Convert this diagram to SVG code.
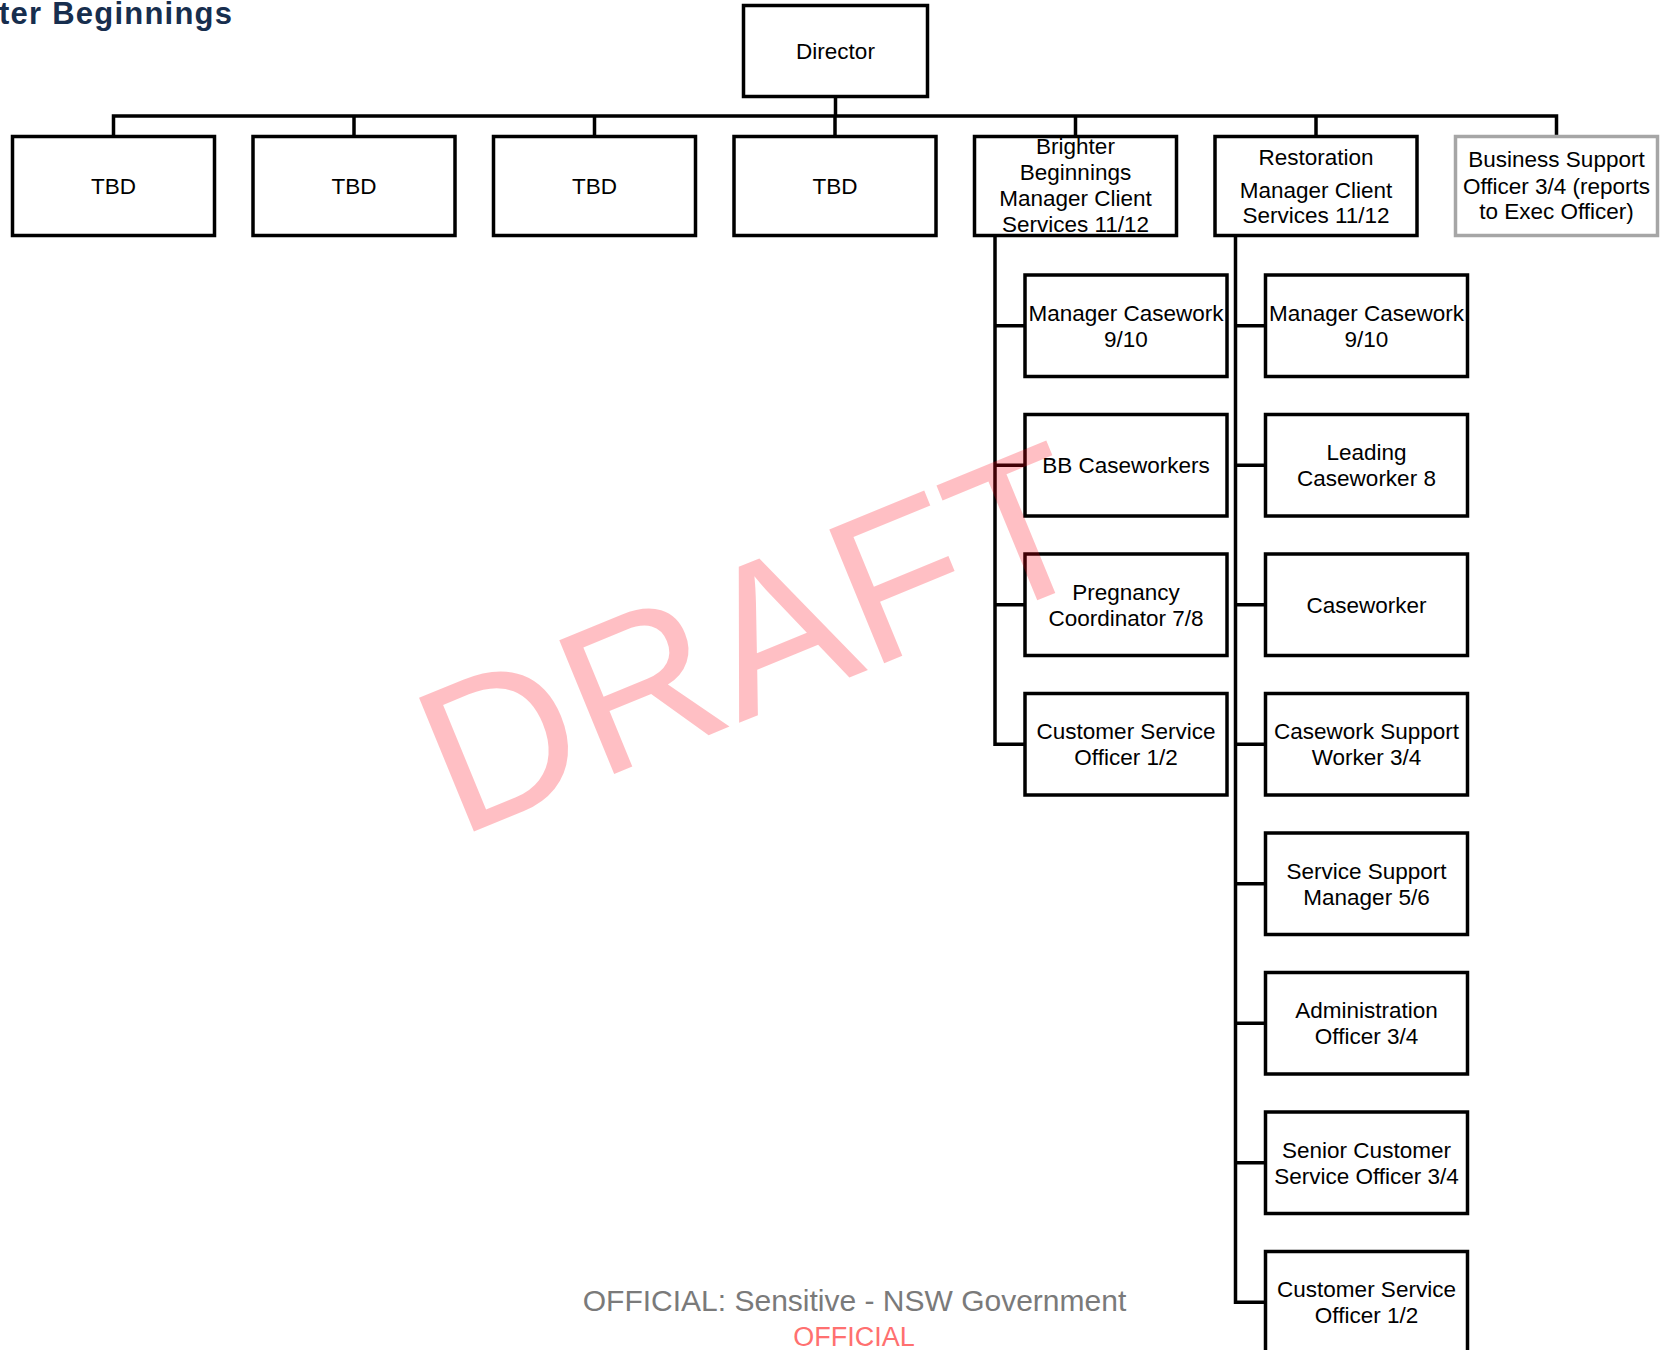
<svg xmlns="http://www.w3.org/2000/svg" width="1662" height="1350" viewBox="0 0 1662 1350">
<defs>
<style>
.box{fill:#fff;stroke:#000;stroke-width:3.5}
.gray{stroke:#a6a6a6}
.conn{fill:none;stroke:#000;stroke-width:3.5}
.lbl{font-family:"Liberation Sans",Arial,sans-serif;font-size:22.5px;text-anchor:middle;fill:#000}
</style>
</defs>
<rect width="1662" height="1350" fill="#fff"/>
<text x="-1" y="24" font-family="Liberation Sans, Arial, sans-serif" font-weight="bold" font-size="31" fill="#172e4e" textLength="233">ter Beginnings</text>

<g id="connectors">
<path class="conn" d="M835.5,96.5 V116"/>
<path class="conn" d="M113.5,136.5 V116 H1556.5 V136.5"/>
<path class="conn" d="M354,116 V136.5 M594.5,116 V136.5 M835,116 V136.5 M1075.5,116 V136.5 M1316,116 V136.5"/>
<path class="conn" d="M995,235.5 V744.25 H1025 M995,325.75 H1025 M995,465.25 H1025 M995,604.75 H1025"/>
<path class="conn" d="M1235.5,235.5 V1302.25 H1265.5 M1235.5,325.75 H1265.5 M1235.5,465.25 H1265.5 M1235.5,604.75 H1265.5 M1235.5,744.25 H1265.5 M1235.5,883.75 H1265.5 M1235.5,1023.25 H1265.5 M1235.5,1162.75 H1265.5"/>
</g>

<g id="director"><rect class="box" x="743.5" y="5.5" width="184" height="91"/><text class="lbl" x="835.5" y="59">Director</text></g>
<g id="tbd1"><rect class="box" x="12.5" y="136.5" width="202" height="99"/><text class="lbl" x="113.5" y="194">TBD</text></g>
<g id="tbd2"><rect class="box" x="253" y="136.5" width="202" height="99"/><text class="lbl" x="354" y="194">TBD</text></g>
<g id="tbd3"><rect class="box" x="493.5" y="136.5" width="202" height="99"/><text class="lbl" x="594.5" y="194">TBD</text></g>
<g id="tbd4"><rect class="box" x="734" y="136.5" width="202" height="99"/><text class="lbl" x="835" y="194">TBD</text></g>
<g id="bb-manager"><rect class="box" x="974.5" y="136.5" width="202" height="99"/>
<text class="lbl" x="1075.5" y="154">Brighter</text><text class="lbl" x="1075.5" y="180">Beginnings</text><text class="lbl" x="1075.5" y="206">Manager Client</text><text class="lbl" x="1075.5" y="232">Services 11/12</text></g>
<g id="restoration-manager"><rect class="box" x="1215" y="136.5" width="202" height="99"/>
<text class="lbl" x="1316" y="165">Restoration</text><text class="lbl" x="1316" y="197.5">Manager Client</text><text class="lbl" x="1316" y="223">Services 11/12</text></g>
<g id="business-support"><rect class="box gray" x="1455.5" y="136.5" width="202" height="99"/>
<text class="lbl" x="1556.5" y="167">Business Support</text><text class="lbl" x="1556.5" y="193.5">Officer 3/4 (reports</text><text class="lbl" x="1556.5" y="219">to Exec Officer)</text></g>

<g id="bb-manager-casework"><rect class="box" x="1025" y="275" width="202" height="101.5"/><text class="lbl" x="1126" y="320.7">Manager Casework</text><text class="lbl" x="1126" y="346.7">9/10</text></g>
<g id="bb-caseworkers"><rect class="box" x="1025" y="414.5" width="202" height="101.5"/><text class="lbl" x="1126" y="473.2">BB Caseworkers</text></g>
<g id="pregnancy-coordinator"><rect class="box" x="1025" y="554" width="202" height="101.5"/><text class="lbl" x="1126" y="599.7">Pregnancy</text><text class="lbl" x="1126" y="625.7">Coordinator 7/8</text></g>
<g id="bb-cso"><rect class="box" x="1025" y="693.5" width="202" height="101.5"/><text class="lbl" x="1126" y="739.2">Customer Service</text><text class="lbl" x="1126" y="765.2">Officer 1/2</text></g>

<g id="r-manager-casework"><rect class="box" x="1265.5" y="275" width="202" height="101.5"/><text class="lbl" x="1366.5" y="320.7">Manager Casework</text><text class="lbl" x="1366.5" y="346.7">9/10</text></g>
<g id="leading-caseworker"><rect class="box" x="1265.5" y="414.5" width="202" height="101.5"/><text class="lbl" x="1366.5" y="460.2">Leading</text><text class="lbl" x="1366.5" y="486.2">Caseworker 8</text></g>
<g id="caseworker"><rect class="box" x="1265.5" y="554" width="202" height="101.5"/><text class="lbl" x="1366.5" y="612.7">Caseworker</text></g>
<g id="casework-support"><rect class="box" x="1265.5" y="693.5" width="202" height="101.5"/><text class="lbl" x="1366.5" y="739.2">Casework Support</text><text class="lbl" x="1366.5" y="765.2">Worker 3/4</text></g>
<g id="service-support"><rect class="box" x="1265.5" y="833" width="202" height="101.5"/><text class="lbl" x="1366.5" y="878.7">Service Support</text><text class="lbl" x="1366.5" y="904.7">Manager 5/6</text></g>
<g id="administration"><rect class="box" x="1265.5" y="972.5" width="202" height="101.5"/><text class="lbl" x="1366.5" y="1018.2">Administration</text><text class="lbl" x="1366.5" y="1044.2">Officer 3/4</text></g>
<g id="senior-cso"><rect class="box" x="1265.5" y="1112" width="202" height="101.5"/><text class="lbl" x="1366.5" y="1157.7">Senior Customer</text><text class="lbl" x="1366.5" y="1183.7">Service Officer 3/4</text></g>
<g id="r-cso"><rect class="box" x="1265.5" y="1251.5" width="202" height="101.5"/><text class="lbl" x="1366.5" y="1297.2">Customer Service</text><text class="lbl" x="1366.5" y="1323.2">Officer 1/2</text></g>

<text x="854.5" y="1311" font-family="Liberation Sans, Arial, sans-serif" font-size="30" fill="#7a7a7a" text-anchor="middle">OFFICIAL: Sensitive - NSW Government</text>
<text x="854" y="1346" font-family="Liberation Sans, Arial, sans-serif" font-size="27" fill="#ff7070" text-anchor="middle">OFFICIAL</text>

<text transform="translate(458,838) rotate(-22.3)" x="0" y="0" font-family="Liberation Sans, Arial, sans-serif" font-size="210" fill="#ff0014" fill-opacity="0.25">DRAFT</text>
</svg>
